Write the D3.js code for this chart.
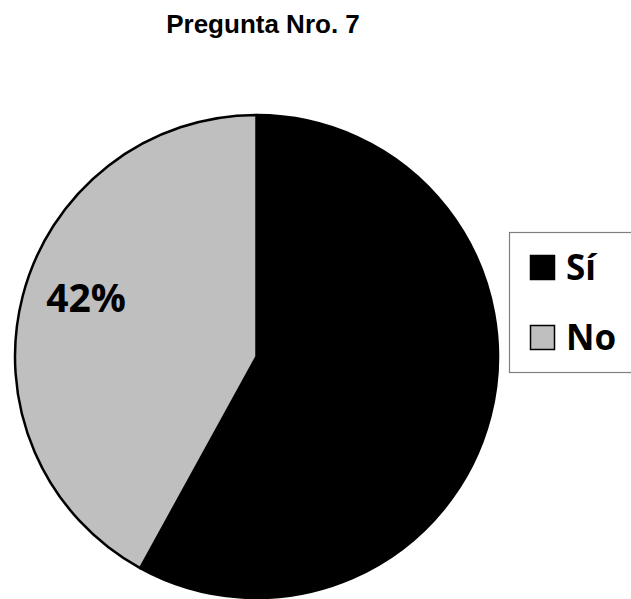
<!DOCTYPE html>
<html><head><meta charset="utf-8">
<script src="https://cdn.jsdelivr.net/npm/d3@7/dist/d3.min.js"></script>
<style>html,body{margin:0;padding:0;background:#fff;overflow:hidden}</style>
</head><body>
<svg id="c" width="631" height="599"></svg>
<script>
const title = "Pregunta Nro. 7";
const categories = ["Sí", "No"];
const values = [58, 42];
const colors = ["#000000", "#bfbfbf"];
const labels = ["58%", "42%"];

const svg = d3.select("#c");
const cx = 256.5, cy = 356.5, r = 241.5;

svg.append("text").attr("x", 263).attr("y", 33).attr("text-anchor", "middle")
  .attr("font-family", "Liberation Sans, Arial, sans-serif").attr("font-weight", "bold")
  .attr("font-size", 26).attr("fill", "#000").text(title);

const data = categories.map((c, i) => ({cat: c, value: values[i], color: colors[i], label: labels[i]}));
const pie = d3.pie().sort(null).value(d => d.value);
const arc = d3.arc().innerRadius(0).outerRadius(r);
const arcs = pie(data);

const g = svg.append("g").attr("transform", `translate(${cx},${cy})`);
g.selectAll("path").data(arcs).enter().append("path")
  .attr("d", arc).attr("fill", d => d.data.color)
  .attr("stroke", "#000").attr("stroke-width", 2.5).attr("stroke-linejoin", "round");

// visible percentage label (on the gray slice)
const lbl = arcs[1];
g.append("text")
  .attr("x", 86 - cx).attr("y", 312 - cy)
  .attr("text-anchor", "middle")
  .attr("font-family", "Open Sans, sans-serif").attr("font-weight", "bold")
  .attr("font-size", 39).attr("fill", "#000").text(lbl.data.label);

// legend
const lg = svg.append("g");
lg.append("rect").attr("x", 509.5).attr("y", 232.5).attr("width", 140).attr("height", 140)
  .attr("fill", "#fff").attr("stroke", "#7f7f7f").attr("stroke-width", 1.2);
const rowY = [255, 325];
data.forEach((d, i) => {
  lg.append("rect").attr("x", 530.5).attr("y", rowY[i] + 0.5).attr("width", 24).attr("height", 24)
    .attr("fill", d.color).attr("stroke", "#000").attr("stroke-width", 1.5);
  lg.append("text").attr("x", 566).attr("y", rowY[i] + 25)
    .attr("font-family", "Open Sans, sans-serif").attr("font-weight", "bold")
    .attr("font-size", 35).attr("fill", "#000").text(d.cat);
});
</script>
</body></html>
